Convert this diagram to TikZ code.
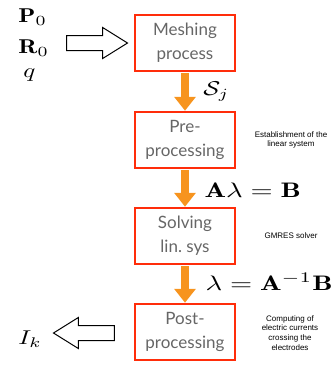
\documentclass[tikz,border=0pt]{standalone}
\usepackage{amsmath,amssymb}
\usepackage{fontspec}
\setsansfont{Lato}
\newfontfamily\notefont{Liberation Sans}
\usepackage{tikz}
\usetikzlibrary{positioning}
\usetikzlibrary{arrows.meta}
\usetikzlibrary{shapes.arrows}
\definecolor{boxred}{RGB}{255,45,10}
\definecolor{floworange}{RGB}{247,148,30}

\begin{document}
\begin{tikzpicture}[
    x=1pt, y=-1pt,
    stage/.style={
      draw=boxred,
      line width=2.5pt,
      minimum width=100pt,
      minimum height=56pt,
      inner sep=2pt,
      align=center,
      text=black!60,
      font=\sffamily\fontsize{17}{24}\selectfont
    },
    flow/.style={
      draw=floworange,
      line width=8pt,
      shorten <=1pt,
      -{Triangle[width=21pt, length=14pt, fill=floworange]}
    },
    hollow/.style={
      single arrow,
      draw=black,
      line width=1pt,
      minimum height=61pt,
      inner xsep=0pt,
      inner ysep=7pt,
      single arrow head extend=8pt,
      single arrow tip angle=64
    },
    note/.style={
      align=center,
      font=\notefont\fontsize{8}{9.8}\selectfont
    },
    lbl/.style={
      anchor=base west,
      inner sep=0pt,
      xscale=2.5, yscale=2,
      transform shape
    },
    eqn/.style={
      anchor=base west,
      inner sep=0pt,
      xscale=2.85, yscale=2.1,
      transform shape
    }
  ]
  \useasboundingbox (0,0) rectangle (333,368);

  % stages of the chain
  \node[stage] (mesh) at (185,43) {Meshing\\process};
  \node[stage] (pre) at (185,140) {Pre-\\processing};
  \node[stage] (solve) at (185,236) {Solving\\lin.\ sys};
  \node[stage] (post) at (185,332) {Post-\\processing};

  \draw[flow] (mesh.south) -- (pre.north);
  \draw[flow] (pre.south) -- (solve.north);
  \draw[flow] (solve.south) -- (post.north);

  \node[lbl] (sj) at (203,95) {$\mathcal{S}_j$};
  \node[eqn] (sys) at (204,197) {$\mathbf{A}\lambda = \mathbf{B}$};
  \node[eqn] (sol) at (205,290) {$\lambda = \mathbf{A}^{-1}\mathbf{B}$};

  % inputs and output
  \node[lbl] (p0) at (18,22) {$\mathbf{P}_0$};
  \node[lbl] (r0) at (18,53) {$\mathbf{R}_0$};
  \node[lbl] (q) at (23,77) {$q$};
  \node[hollow] (in) at (91,43) {};

  \node[lbl] (ik) at (18,344) {$I_k$};
  \node[hollow, shape border rotate=180] (out) at (90,333) {};

  % side notes
  \node[note] (n1) at (291,140) {Establishment of the\\linear system};
  \node[note] (n2) at (291,236) {GMRES solver};
  \node[note] (n3) at (290,333) {Computing of\\electric currents\\crossing the\\electrodes};
\end{tikzpicture}
\end{document}
